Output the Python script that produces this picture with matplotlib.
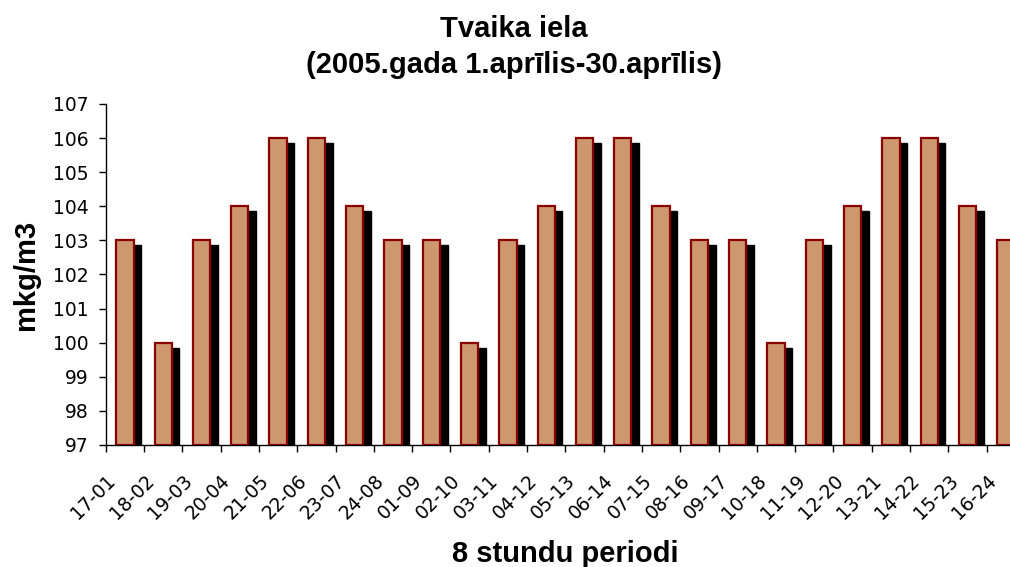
import matplotlib
matplotlib.use('Agg')
import matplotlib.pyplot as plt
import matplotlib.transforms as mtransforms
import numpy as np

# Data
periods = ['17-01', '18-02', '19-03', '20-04', '21-05', '22-06', '23-07', '24-08',
           '01-09', '02-10', '03-11', '04-12', '05-13', '06-14', '07-15', '08-16',
           '09-17', '10-18', '11-19', '12-20', '13-21', '14-22', '15-23', '16-24']
values = [103, 100, 103, 104, 106, 106, 104, 103,
          103, 100, 103, 104, 106, 106, 104, 103,
          103, 100, 103, 104, 106, 106, 104, 103]
title_line1 = 'Tvaika iela'
title_line2 = '(2005.gada 1.aprīlis-30.aprīlis)'
y_label = 'mkg/m3'
x_label = '8 stundu periodi'

y_min, y_max = 97, 107

plt.rcParams['font.family'] = ['DejaVu Sans']

# Figure (1010x567 px)
fig = plt.figure(figsize=(10.10, 5.67), dpi=100)
# axes run a little past the right edge, like the source picture
ax = fig.add_axes([0.1047, 0.2152, 0.9101, 0.6014])

x = np.arange(len(periods))
bar_w = 0.45
vals = np.array(values, dtype=float)

# black drop shadow (offset right and down)
shadow_dx = 0.2
shadow_dy = 0.147
ax.bar(x + shadow_dx, vals - y_min - shadow_dy, bottom=y_min, width=bar_w,
       color='black', edgecolor='black', linewidth=1.0, zorder=2)
# main bars
ax.bar(x, vals - y_min, bottom=y_min, width=bar_w,
       color='#CD986E', edgecolor='#8B0000', linewidth=1.6, zorder=3)

ax.set_xlim(-0.5, len(periods) - 0.5)
ax.set_ylim(y_min, y_max)

# spines
for s in ['top', 'right']:
    ax.spines[s].set_visible(False)
for s in ['left', 'bottom']:
    ax.spines[s].set_linewidth(1.0)
    ax.spines[s].set_color('black')

# y ticks
ax.set_yticks(range(y_min, y_max + 1))
ax.tick_params(axis='y', direction='out', length=5, width=1, pad=7,
               labelsize=13.5)

# x ticks: marks at category boundaries, labels at centres
ax.set_xticks(np.arange(-0.5, len(periods), 1.0))
ax.set_xticklabels([])
ax.tick_params(axis='x', which='major', direction='out', length=5, width=1)
ax.set_xticks(x, minor=True)
ax.set_xticklabels(periods, minor=True, rotation=45, ha='right', va='top',
                   rotation_mode='anchor', fontsize=13.5)
ax.tick_params(axis='x', which='minor', length=0, pad=19)
shift = mtransforms.ScaledTranslation(-19 / 100, 0, fig.dpi_scale_trans)
for lab in ax.xaxis.get_minorticklabels():
    lab.set_transform(lab.get_transform() + shift)

# titles and axis labels
title_kw = dict(fontsize=21, fontweight='bold', family='Liberation Sans',
                ha='center', va='baseline')
fig.text(514 / 1010, 1 - 37 / 567, title_line1, **title_kw)
fig.text(514 / 1010, 1 - 73 / 567, title_line2, **title_kw)
fig.text(565 / 1010, 5 / 567, x_label, **title_kw)
fig.text(26 / 1010, 0.2152 + 0.6014 / 2, y_label, rotation=90,
         fontsize=21, fontweight='bold', family='Liberation Sans',
         ha='center', va='center')

fig.savefig('out.png', dpi=100)
